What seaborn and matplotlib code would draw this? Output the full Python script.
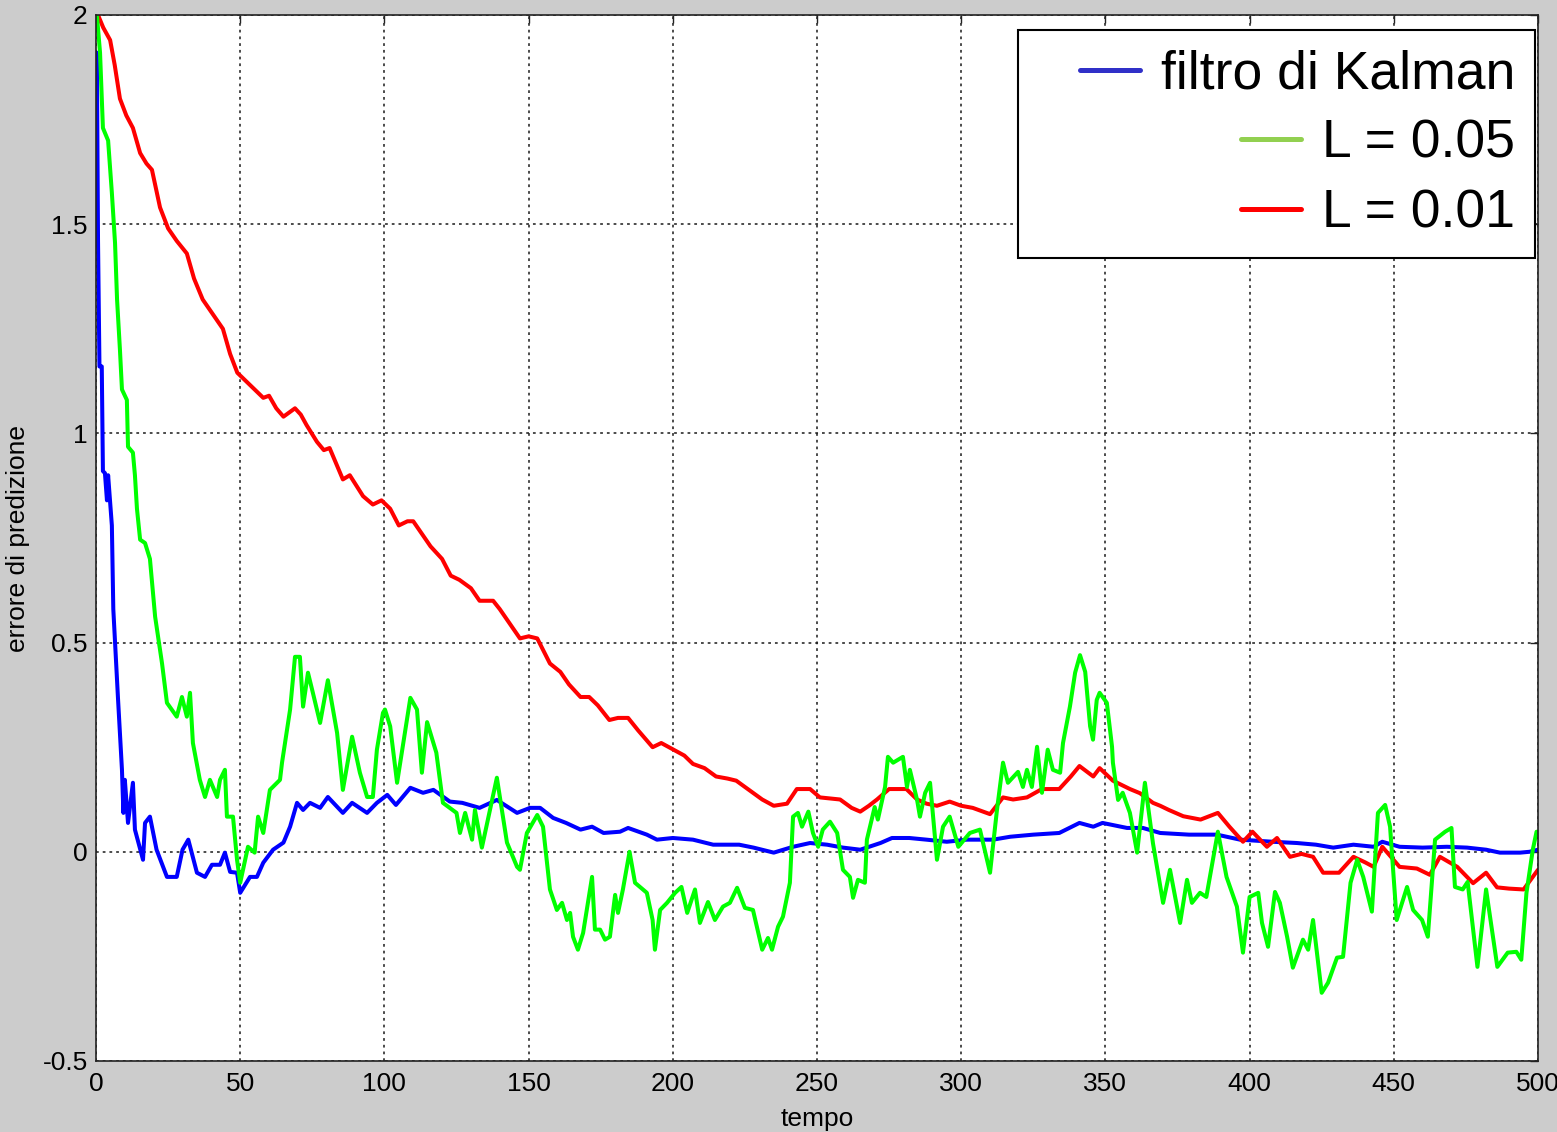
import matplotlib
matplotlib.use("Agg")
import matplotlib.pyplot as plt
import pandas as pd
import seaborn as sns
from matplotlib.lines import Line2D
from matplotlib.legend_handler import HandlerLine2D

# (tempo, errore di predizione) pairs for each estimator
kalman = [
    (0, 1.90), (0.3, 1.91), (0.7, 1.46), (1.2, 1.16), (2, 1.16), (2.4, 0.91), (3.1, 0.905),
    (3.8, 0.84), (4.2, 0.90), (5.5, 0.78), (6, 0.58), (7.6, 0.37), (9, 0.196), (9.5, 0.093),
    (10, 0.172), (11.1, 0.069), (12.8, 0.165), (13.5, 0.053), (16.3, -0.019), (17, 0.069),
    (18.7, 0.084), (21, 0.005), (24.6, -0.06), (28, -0.06), (30, 0.005), (32, 0.029),
    (35, -0.05), (37.8, -0.06), (40.2, -0.031), (43, -0.031), (44.7, -0.002), (46.5, -0.048),
    (48.9, -0.05), (50, -0.098), (53.4, -0.06), (55.8, -0.06), (58, -0.026), (61.4, 0.005),
    (65, 0.022), (67.3, 0.06), (69.7, 0.117), (71.8, 0.10), (74.2, 0.117), (77.7, 0.105),
    (80.4, 0.131), (85.6, 0.093), (88.8, 0.117), (94, 0.093), (97.4, 0.117), (101, 0.136),
    (104, 0.112), (109, 0.153), (113.4, 0.141), (117, 0.148), (122.7, 0.12), (127, 0.117),
    (133, 0.105), (139, 0.124), (146, 0.093), (150.5, 0.105), (154, 0.105), (158.5, 0.081),
    (163, 0.069), (168, 0.053), (172, 0.06), (176, 0.045), (181.7, 0.048), (184.5, 0.057),
    (191, 0.041), (194.5, 0.029), (200, 0.033), (207, 0.029), (214, 0.017), (223, 0.017),
    (228, 0.01), (235, -0.002), (241.7, 0.012), (247.6, 0.021), (253.5, 0.017), (259, 0.01),
    (265, 0.005), (272, 0.021), (276, 0.033), (282, 0.033), (288, 0.029), (295, 0.024),
    (302, 0.029), (311, 0.029), (317, 0.036), (325, 0.041), (334, 0.045), (341, 0.069),
    (345.8, 0.06), (349, 0.069), (357.5, 0.057), (363, 0.057), (369, 0.045), (379, 0.041),
    (388.7, 0.041), (396.7, 0.029), (408, 0.024), (416.4, 0.021), (423, 0.017), (429, 0.01),
    (436, 0.017), (443, 0.012), (446, 0.024), (452, 0.012), (460, 0.01), (468.4, 0.012),
    (475.4, 0.01), (482, 0.005), (486.8, -0.002), (493.8, -0.002), (497, 0.0), (500, 0.005),
]

l_005 = [
    (0, 2.0), (0.3, 2.0), (1.4, 1.91), (2.4, 1.73), (4.2, 1.70), (5.5, 1.575), (6.6, 1.455),
    (7.3, 1.32), (8.3, 1.20), (9, 1.105), (10.7, 1.08), (11.1, 0.968), (12.8, 0.954),
    (13.5, 0.90), (14.2, 0.82), (15.3, 0.746), (17, 0.738), (18.7, 0.70), (20.5, 0.562),
    (22.9, 0.45), (24.6, 0.356), (28, 0.323), (29.8, 0.37), (31.5, 0.323), (32.6, 0.38),
    (33.6, 0.26), (36, 0.172), (37.8, 0.131), (39.5, 0.172), (42, 0.131), (43, 0.172),
    (44.7, 0.196), (45.4, 0.084), (47.5, 0.084), (48.9, -0.019), (50, -0.074), (52.7, 0.012),
    (55, -0.002), (56.2, 0.084), (58, 0.045), (60.3, 0.148), (63.8, 0.172), (64.5, 0.213),
    (67.3, 0.34), (69, 0.466), (70.7, 0.466), (71.8, 0.347), (73.5, 0.428), (75.2, 0.38),
    (77.7, 0.308), (80.4, 0.41), (83.6, 0.284), (85.6, 0.148), (88.8, 0.275), (91.5, 0.189),
    (94, 0.131), (96, 0.131), (97.4, 0.244), (99.5, 0.332), (100.2, 0.34), (102, 0.30),
    (104.4, 0.165), (109, 0.368), (111.3, 0.34), (113, 0.189), (114.8, 0.31), (118, 0.237),
    (120.3, 0.117), (125, 0.093), (126.2, 0.045), (128, 0.093), (130.4, 0.029), (131.4, 0.10),
    (133.8, 0.01), (139, 0.177), (142.5, 0.022), (146, -0.036), (147, -0.043), (149.4, 0.045),
    (153, 0.088), (155, 0.06), (157.4, -0.09), (159.8, -0.139), (161.6, -0.122),
    (163.3, -0.163), (164.4, -0.146), (165.4, -0.203), (167.1, -0.234), (168.9, -0.194),
    (172, -0.06), (173, -0.186), (174.8, -0.186), (176.5, -0.21), (178.2, -0.203),
    (180, -0.103), (181, -0.146), (182.7, -0.09), (185, 0.0), (186.9, -0.074), (191, -0.098),
    (193, -0.163), (193.8, -0.234), (195.6, -0.139), (198, -0.122), (200.8, -0.098),
    (203, -0.084), (205, -0.146), (207.7, -0.09), (209.4, -0.17), (212.2, -0.12),
    (214.6, -0.163), (217.4, -0.131), (219.8, -0.122), (222.3, -0.086), (225, -0.134),
    (227.8, -0.139), (231, -0.234), (233, -0.206), (234.4, -0.234), (236.5, -0.179),
    (238.2, -0.155), (240.6, -0.074), (241.7, 0.084), (243.4, 0.093), (244.8, 0.06),
    (247, 0.096), (248.6, 0.045), (250.4, 0.012), (252, 0.053), (254.5, 0.072), (257, 0.045),
    (259, -0.043), (261.4, -0.06), (262.5, -0.11), (264.2, -0.067), (266.6, -0.074),
    (267.3, 0.029), (270, 0.107), (271.1, 0.077), (273.6, 0.155), (274.6, 0.227),
    (276.4, 0.213), (279.8, 0.227), (281.2, 0.155), (282.2, 0.196), (284.7, 0.124),
    (285.7, 0.084), (287.5, 0.141), (289.2, 0.165), (291.6, -0.019), (293.7, 0.06),
    (296, 0.084), (299, 0.012), (303, 0.045), (306.5, 0.053), (310, -0.05), (312.4, 0.10),
    (314.5, 0.213), (316.2, 0.165), (319.7, 0.191), (321.4, 0.155), (322.8, 0.196),
    (324.5, 0.155), (326.3, 0.251), (328, 0.141), (330, 0.244), (331.8, 0.196),
    (334.3, 0.189), (335.3, 0.26), (337.7, 0.347), (339.5, 0.428), (341.2, 0.47),
    (343, 0.43), (344.7, 0.30), (345.7, 0.268), (347, 0.363), (348, 0.38), (350.5, 0.356),
    (352.3, 0.251), (352.6, 0.213), (354.4, 0.124), (356, 0.141), (358.5, 0.093),
    (361, -0.002), (363.7, 0.165), (366.5, 0.02), (370, -0.122), (372.4, -0.043),
    (375.9, -0.17), (378.3, -0.067), (380, -0.122), (382.8, -0.098), (385, -0.108),
    (389, 0.048), (392, -0.06), (395.6, -0.131), (397.7, -0.241), (400, -0.108),
    (403, -0.098), (404.3, -0.17), (406.4, -0.227), (408.8, -0.096), (410.5, -0.122),
    (413, -0.203), (415, -0.277), (418.5, -0.21), (420.3, -0.234), (422, -0.163),
    (425, -0.337), (427.2, -0.313), (430.3, -0.253), (432.4, -0.251), (435, -0.074),
    (437.3, -0.019), (439.4, -0.06), (442.4, -0.143), (444.5, 0.093), (447, 0.112),
    (448.7, 0.06), (451, -0.163), (454.6, -0.084), (456.7, -0.139), (459.8, -0.163),
    (461.8, -0.203), (464.3, 0.029), (467.8, 0.048), (470, 0.057), (471.2, -0.084),
    (473.9, -0.09), (475.6, -0.072), (479, -0.275), (482, -0.09), (485.9, -0.275),
    (489.5, -0.241), (492.5, -0.239), (494.2, -0.258), (496, -0.098), (498.2, 0.005),
    (499.5, 0.048),
]

l_001 = [
    (0.7, 2.0), (2.5, 1.97), (4.9, 1.94), (6.5, 1.88), (8.3, 1.80), (10.5, 1.76), (12.8, 1.73),
    (15.3, 1.67), (17.5, 1.645), (19.4, 1.63), (22.2, 1.54), (25, 1.49), (28, 1.46),
    (31.5, 1.43), (34, 1.37), (37, 1.32), (40, 1.29), (44, 1.25), (46.5, 1.19), (49, 1.145),
    (52, 1.125), (55.8, 1.10), (58, 1.085), (60, 1.09), (62.5, 1.06), (65, 1.04), (67, 1.05),
    (69, 1.06), (71, 1.045), (73, 1.02), (76.6, 0.98), (79, 0.96), (81, 0.965), (85.6, 0.89),
    (88, 0.90), (92.6, 0.85), (96, 0.83), (99, 0.84), (102, 0.82), (105, 0.78), (108, 0.79),
    (110, 0.79), (113, 0.76), (116, 0.73), (120, 0.70), (123, 0.66), (126, 0.65), (130, 0.63),
    (133, 0.60), (137.7, 0.60), (140, 0.58), (142.5, 0.555), (147, 0.51), (150, 0.515),
    (153, 0.51), (157.4, 0.45), (161, 0.43), (164, 0.40), (168, 0.37), (171, 0.37),
    (174, 0.35), (178, 0.315), (181, 0.32), (184.5, 0.32), (188, 0.29), (193, 0.25),
    (196, 0.26), (200, 0.245), (204, 0.23), (207, 0.21), (211, 0.20), (215, 0.18),
    (219, 0.175), (222, 0.17), (226, 0.15), (231, 0.125), (235, 0.11), (239.6, 0.115),
    (243, 0.15), (247.6, 0.15), (251, 0.13), (258, 0.125), (262, 0.105), (265, 0.096),
    (268, 0.11), (270.8, 0.125), (275, 0.15), (281, 0.15), (284.7, 0.125), (288, 0.115),
    (291.6, 0.11), (296, 0.12), (300, 0.11), (304, 0.105), (310, 0.09), (314.5, 0.13),
    (318, 0.125), (322.8, 0.13), (328, 0.15), (334, 0.15), (338, 0.18), (341, 0.205),
    (345.8, 0.18), (348, 0.20), (352.6, 0.17), (358.5, 0.15), (362, 0.14), (366.5, 0.117),
    (369, 0.11), (372, 0.10), (377, 0.085), (383, 0.077), (389, 0.093), (393, 0.06),
    (397.7, 0.024), (401, 0.048), (406, 0.012), (409.5, 0.033), (414, -0.012), (418, -0.005),
    (422, -0.012), (425.5, -0.05), (431, -0.05), (436, -0.012), (440, -0.025), (443, -0.036),
    (446, 0.012), (452, -0.036), (458, -0.04), (462.5, -0.055), (466, -0.012), (472, -0.036),
    (477.5, -0.075), (482, -0.05), (485.8, -0.085), (490, -0.088), (495, -0.09), (500, -0.043),
]

series_labels = ["filtro di Kalman", "L = 0.05", "L = 0.01"]
line_colors = ["#0000ff", "#00ff00", "#ff0000"]
legend_colors = ["#3030c8", "#92d050", "#ff0000"]
line_zorder = [2.0, 2.2, 2.1]
x_ticks = [0, 50, 100, 150, 200, 250, 300, 350, 400, 450, 500]
y_ticks = [-0.5, 0, 0.5, 1, 1.5, 2]
y_tick_labels = ["-0.5", "0", "0.5", "1", "1.5", "2"]

sns.set_style("white")
plt.rcParams["font.family"] = ["Liberation Sans", "DejaVu Sans"]
plt.rcParams["text.color"] = "black"
plt.rcParams["axes.labelcolor"] = "black"

frames = []
for label, pts in zip(series_labels, [kalman, l_005, l_001]):
    t, v = zip(*pts)
    frames.append(pd.DataFrame({"tempo": t, "errore": v, "serie": label}))
df = pd.concat(frames, ignore_index=True)

W, H = 1557, 1132
fig = plt.figure(figsize=(W / 100, H / 100), dpi=100, facecolor="#cccccc")
ax = fig.add_axes([96 / W, 1 - 1061 / H, (1538 - 96) / W, (1061 - 15) / H])
ax.set_facecolor("white")

for label, color, z in zip(series_labels, line_colors, line_zorder):
    sns.lineplot(data=df[df["serie"] == label], x="tempo", y="errore", color=color,
                 linewidth=2.9, estimator=None, ax=ax, legend=False, zorder=z)

ax.set_xlim(0, 500)
ax.set_ylim(-0.5, 2)
ax.set_xticks(x_ticks)
ax.set_yticks(y_ticks)
ax.set_yticklabels(y_tick_labels)
ax.tick_params(direction="in", length=6, width=1, top=True, right=True,
               labelsize=19, color="#222222", labelcolor="black")
ax.tick_params(axis="x", pad=8)
ax.tick_params(axis="y", pad=6)
ax.grid(True, color="#1a1a1a", linestyle=(0, (1.8, 2.6)), linewidth=1.1)
for s in ax.spines.values():
    s.set_visible(True)
    s.set_color("#222222")
    s.set_linewidth(1.2)

ax.set_xlabel("tempo", fontsize=19, labelpad=8, color="black")
ax.set_ylabel("errore di predizione", fontsize=19, labelpad=9, color="black")

handles = [Line2D([], [], color=c, linewidth=3.6) for c in legend_colors]
leg = ax.legend(handles, series_labels, loc="upper right", bbox_to_anchor=(0.9979, 0.9857),
                borderaxespad=0, fontsize=38.5, frameon=True, fancybox=False, framealpha=1,
                edgecolor="black", handlelength=1.905, handletextpad=0.39, borderpad=0.37,
                labelspacing=0.36, handler_map={Line2D: HandlerLine2D(xpad=0.785)})
leg.get_frame().set_linewidth(1.5)
for txt in leg.get_texts():
    txt.set_color("black")
for col in leg._legend_handle_box.get_children():
    col.align = "right"

fig.savefig("out.png", dpi=100, facecolor=fig.get_facecolor())
